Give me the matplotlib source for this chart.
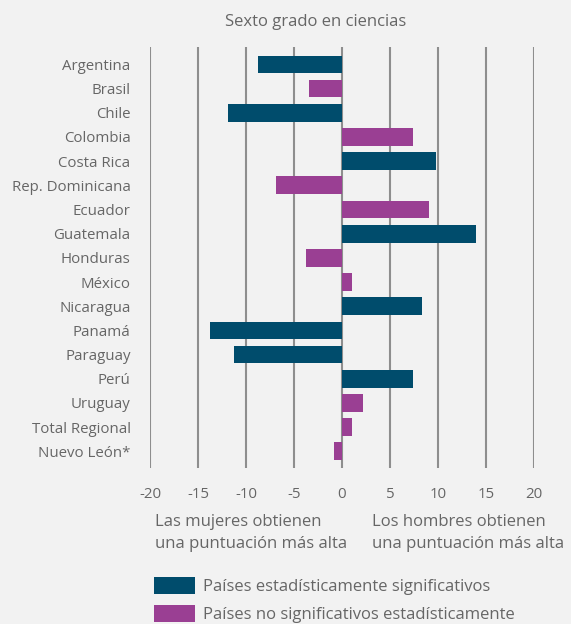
import matplotlib
matplotlib.use('AGG')
import matplotlib.pyplot as plt
from matplotlib.patches import Patch

# data
countries = ["Argentina", "Brasil", "Chile", "Colombia", "Costa Rica",
             "Rep. Dominicana", "Ecuador", "Guatemala", "Honduras", "México",
             "Nicaragua", "Panamá", "Paraguay", "Perú", "Uruguay",
             "Total Regional", "Nuevo León*"]
differences = [-8.7, -3.4, -11.9, 7.4, 9.8, -6.9, 9.1, 14.0, -3.8, 1.0,
               8.3, -13.8, -11.2, 7.4, 2.2, 1.0, -0.8]
significant = [1, 0, 1, 0, 1, 0, 0, 1, 0, 0, 1, 1, 1, 1, 0, 0, 0]
x_ticks = [-20, -15, -10, -5, 0, 5, 10, 15, 20]

title = "Sexto grado en ciencias"
left_note = "Las mujeres obtienen\nuna puntuación más alta"
right_note = "Los hombres obtienen\nuna puntuación más alta"
legend_labels = ["Países estadísticamente significativos",
                 "Países no significativos estadísticamente"]

BG = "#F2F2F2"
TEXT = "#666666"
GRID = "#8E8E8E"
DARK = "#004C6C"
PURPLE = "#9A3F93"

plt.rcParams['font.family'] = ['Open Sans', 'DejaVu Sans']

W, H = 571, 624
fig = plt.figure(figsize=(W / 100, H / 100), dpi=100, facecolor=BG)

# axes box: x=-20 at px 150, x=20 at px 534; top grid at 47, bottom at 468
ax = fig.add_axes([150 / W, 1 - 468 / H, 384 / W, 421 / H], facecolor=BG)

colors = [DARK if s else PURPLE for s in significant]
ypos = list(range(len(countries)))
ax.barh(ypos, differences, height=0.73, color=colors, zorder=3)

ax.set_xlim(-20, 20)
ax.set_ylim(len(countries) - 0.31, -0.72)
ax.set_xticks(x_ticks)
ax.set_xticklabels([str(t) for t in x_ticks])
ax.set_yticks(ypos)
ax.set_yticklabels(countries)
ax.tick_params(axis='both', length=0, labelsize=10.8, colors=TEXT)
ax.tick_params(axis='x', pad=14)
ax.tick_params(axis='y', pad=14)
for s in ax.spines.values():
    s.set_visible(False)
ax.grid(axis='x', color=GRID, linewidth=1.5, zorder=0)
ax.grid(axis='y', visible=False)

fig.text(316 / W, 1 - 22 / H, title, ha='center', va='center',
         fontsize=12, color=TEXT)
fig.text(155 / W, 1 - 533 / H, left_note, ha='left', va='center',
         fontsize=12, color=TEXT, linespacing=1.42)
fig.text(372 / W, 1 - 533 / H, right_note, ha='left', va='center',
         fontsize=12, color=TEXT, linespacing=1.42)

handles = [Patch(facecolor=DARK), Patch(facecolor=PURPLE)]
fig.legend(handles, legend_labels, loc='upper left',
           bbox_to_anchor=(154 / W, 1 - 577 / H), frameon=False,
           fontsize=12, labelcolor=TEXT, borderpad=0, borderaxespad=0,
           handlelength=2.45, handleheight=1.15, handletextpad=0.5,
           labelspacing=0.62)

plt.savefig("out.png", dpi=100, facecolor=BG)
